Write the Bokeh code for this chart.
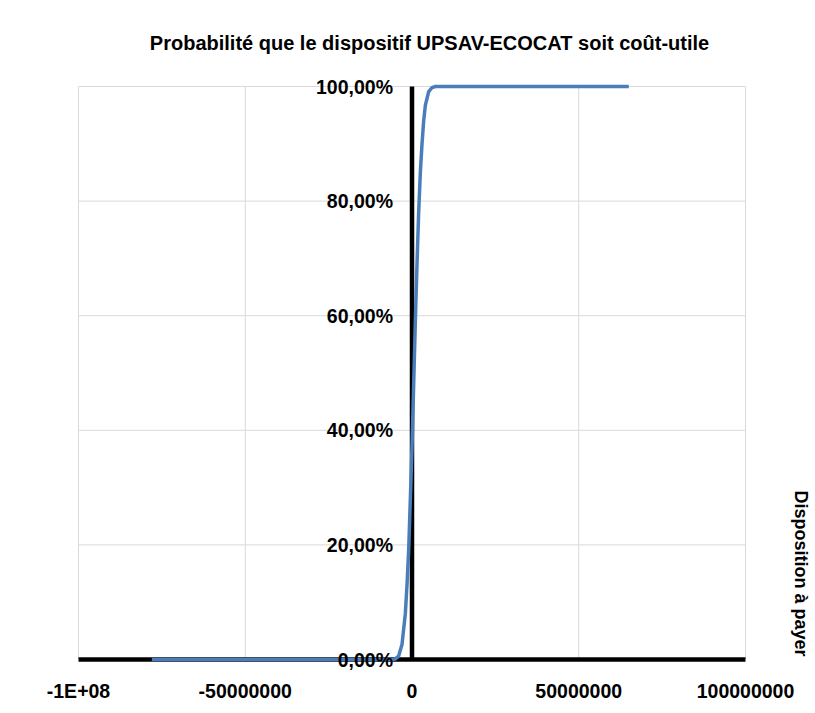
import math
from bokeh.plotting import figure
from bokeh.models import Range1d, LinearAxis, FixedTicker, Label
from bokeh.embed import file_html
from bokeh.resources import INLINE

# --- data ---
wtp = [-78e6, -10e6, -6e6, -5e6, -4e6, -3e6, -2e6, -1.5e6, -1e6, -0.5e6, 0.0,
       0.5e6, 1e6, 1.5e6, 2e6, 2.5e6, 3e6, 3.5e6, 4e6, 5e6, 6e6, 7e6, 65e6]
prob = [0.0, 0.0, 0.0, 0.001, 0.006, 0.026, 0.08, 0.13, 0.19, 0.28, 0.37,
        0.48, 0.59, 0.69, 0.78, 0.85, 0.90, 0.94, 0.967, 0.991, 0.998, 1.0, 1.0]

x_ticks = [-1e8, -5e7, 0, 5e7, 1e8]
x_tick_labels = ["-1E+08", "-50000000", "0", "50000000", "100000000"]
y_ticks = [0.0, 0.2, 0.4, 0.6, 0.8, 1.0]
y_tick_labels = ["0,00%", "20,00%", "40,00%", "60,00%", "80,00%", "100,00%"]

title_text = "Probabilité que le dispositif UPSAV-ECOCAT soit coût-utile"
x_title = "Disposition à payer"

# --- layout (pixels) ---
W, H = 815, 713
L, R, T, B = 78, 745, 86, 659          # plot-area edges
x0, x1 = x_ticks[0], x_ticks[-1]
y0, y1 = y_ticks[0], y_ticks[-1]
xs = (x1 - x0) / (R - L)
ys = (y1 - y0) / (B - T)


def dx(px):
    return x0 + (px - L) * xs


def dy(py):
    return y0 + (B - py) * ys


FONT = "Liberation Sans"
FS = "19.5px"
GRID = "#d9d9d9"
BLUE = "#4a7ebb"

p = figure(width=W, height=H, output_backend="svg", toolbar_location=None,
           x_range=Range1d(dx(0), dx(W)), y_range=Range1d(dy(H), dy(0)),
           x_axis_location=None, y_axis_location=None, title_location=None,
           min_border=0)
p.outline_line_color = None
p.background_fill_color = "white"
p.border_fill_color = "white"
p.xgrid.visible = False
p.ygrid.visible = False

# grid lines limited to the plot area
p.segment(x0=x_ticks, y0=[y0] * len(x_ticks), x1=x_ticks, y1=[y1] * len(x_ticks),
          line_color=GRID, line_width=1)
p.segment(x0=[x0] * len(y_ticks), y0=y_ticks, x1=[x1] * len(y_ticks), y1=y_ticks,
          line_color=GRID, line_width=1)

# axis lines (beneath the curve)
p.segment(x0=[x0], y0=[0], x1=[x1], y1=[0], line_color="black", line_width=4.5)
p.segment(x0=[0], y0=[y0], x1=[0], y1=[y1], line_color="black", line_width=4.5)

# curve
p.line(wtp, prob, line_color=BLUE, line_width=3.5)


def style(ax, standoff):
    ax.axis_line_color = None
    ax.major_tick_line_color = None
    ax.minor_tick_line_color = None
    ax.major_tick_out = 0
    ax.major_tick_in = 0
    ax.major_label_standoff = standoff
    ax.major_label_text_font = FONT
    ax.major_label_text_font_style = "bold"
    ax.major_label_text_font_size = FS
    ax.major_label_text_color = "black"


xa = LinearAxis(ticker=FixedTicker(ticks=x_ticks), fixed_location=0,
                major_label_overrides={t: l for t, l in zip(x_ticks, x_tick_labels)})
style(xa, 20)
p.add_layout(xa, "below")

ya = LinearAxis(ticker=FixedTicker(ticks=y_ticks), fixed_location=0,
                major_label_overrides={t: l for t, l in zip(y_ticks, y_tick_labels)})
style(ya, 19)
p.add_layout(ya, "left")

# title and axis title
p.add_layout(Label(x=dx(429), y=dy(42), text=title_text, text_align="center",
                   text_baseline="middle", text_font=FONT, text_font_style="bold",
                   text_font_size="20px", text_color="black"))
p.add_layout(Label(x=dx(800), y=dy(490), text=x_title, angle=-math.pi / 2,
                   text_align="left", text_baseline="middle", text_font=FONT,
                   text_font_style="bold", text_font_size="18px", text_color="black"))

open("out.html", "w").write(file_html(p, INLINE))
